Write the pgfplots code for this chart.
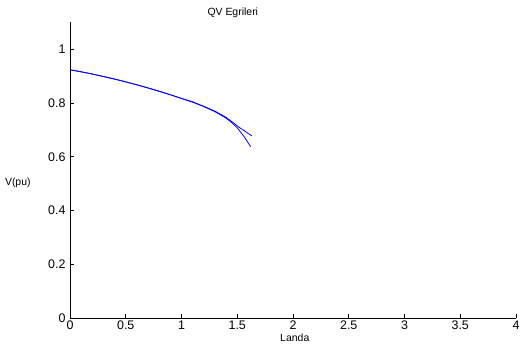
\documentclass[border=0pt]{standalone}
\usepackage{pgfplots}
\pgfplotsset{compat=1.18}
\usepackage{fontspec}
\setmainfont{Liberation Sans}
\begin{document}
\begin{tikzpicture}
\path[use as bounding box] (-70bp,-26bp) rectangle (460bp,318bp);
\begin{axis}[
  at={(0,0)}, anchor=south west,
  scale only axis, width=446bp, height=295.5bp,
  xmin=0, xmax=4, ymin=0, ymax=1.1,
  axis x line*=bottom, axis y line*=left,
  axis line style={black, line width=0.7bp},
  tick align=inside, major tick length=4bp,
  tick style={black, line width=0.7bp},
  xtick={0,0.5,...,4}, ytick={0,0.2,0.4,0.6,0.8,1},
  /pgf/number format/assume math mode=true,
  ticklabel style={font=\fontsize{12.5}{14}\selectfont},
  xticklabel style={yshift=1bp},
  yticklabel style={xshift=-1bp},
  title={QV Egrileri},
  title style={at={(axis description cs:0.365,1.012)}, anchor=center, font=\fontsize{10.5}{12}\selectfont},
  xlabel={Landa},
  xlabel style={at={(axis description cs:0.504,-0.066)}, anchor=center, font=\fontsize{10.5}{12}\selectfont},
  ylabel={V(pu)},
  ylabel style={at={(axis description cs:-0.117,0.459)}, anchor=center, rotate=-90, font=\fontsize{10.5}{12}\selectfont},
]
\addplot[blue, line width=0.8bp] coordinates {
(0,0.924) (0.1,0.9164) (0.2,0.9081) (0.3,0.8990) (0.4,0.8893) (0.5,0.8790)
(0.6,0.8680) (0.7,0.8563) (0.8,0.8440) (0.9,0.8310) (1.0,0.8173) (1.1,0.8030)
(1.2,0.788) (1.3,0.770) (1.4,0.747) (1.46,0.728) (1.52,0.709) (1.58,0.692) (1.63,0.678)
};
\addplot[blue, line width=0.8bp] coordinates {
(0,0.924) (0.1,0.9164) (0.2,0.9081) (0.3,0.8990) (0.4,0.8893) (0.5,0.8790)
(0.6,0.8680) (0.7,0.8563) (0.8,0.8440) (0.9,0.8310) (1.0,0.8173) (1.1,0.805)
(1.2,0.787) (1.3,0.768) (1.4,0.744) (1.46,0.724) (1.5,0.708) (1.56,0.676) (1.62,0.638)
};
\end{axis}
\end{tikzpicture}
\end{document}
